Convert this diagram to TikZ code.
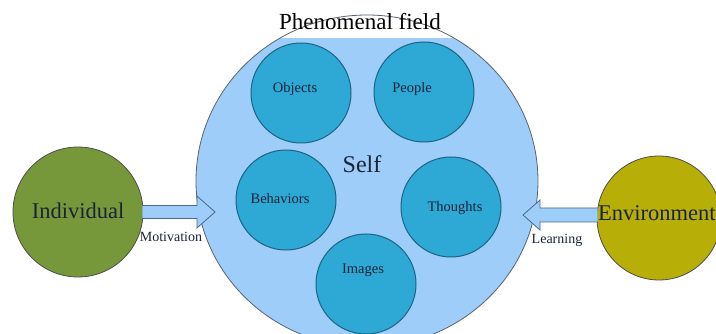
\documentclass[tikz,border=0pt]{standalone}
\usepackage{fontspec}
\setmainfont{Liberation Serif}
\usetikzlibrary{shapes.geometric,calc}
\definecolor{fieldblue}{HTML}{9DCDF8}
\definecolor{fieldline}{HTML}{5A6470}
\definecolor{subfill}{HTML}{2EA8D4}
\definecolor{subline}{HTML}{1A6584}
\definecolor{indfill}{HTML}{77983A}
\definecolor{envfill}{HTML}{B8AE08}
\definecolor{inktext}{HTML}{1A2438}
\definecolor{arrowline}{HTML}{4A6A8A}
\tikzset{
  subcircle/.style={circle, fill=subfill, draw=subline, line width=1pt, minimum size=100pt, inner sep=0pt},
  sublabel/.style={text=inktext, font=\fontsize{14.5}{16}\selectfont, inner sep=0pt},
  bigcircle/.style={circle, draw=black!70, line width=0.8pt, minimum size=130pt, inner sep=0pt},
  barrow/.style={fill=fieldblue, draw=arrowline, line width=0.8pt, line join=miter},
  smalllabel/.style={text=inktext, font=\fontsize{14}{16}\selectfont, inner sep=0pt}
}
\begin{document}
\begin{tikzpicture}[x=1pt, y=-1pt]
\useasboundingbox (0,0) rectangle (716,334);
\clip (0,0) rectangle (716,334);
\fill[white] (0,0) rectangle (716,334);
% phenomenal field
\node[ellipse, fill=fieldblue, minimum width=342pt, minimum height=332pt, inner sep=0pt] (pf) at (367,181) {};
\node[fill=white, minimum width=180pt, minimum height=36pt, inner sep=0pt] (pfbox) at (363,20) {};
\draw[fieldline, line width=0.8pt] (pf.center) ellipse [x radius=171pt, y radius=166pt];
\node[text=black, font=\fontsize{23}{26}\selectfont, inner sep=0pt] (pft) at (360,22) {Phenomenal field};
% sub circles
\node[subcircle] (obj) at (301,93) {};
\node[subcircle] (peo) at (424,92) {};
\node[subcircle] (beh) at (286,200) {};
\node[subcircle] (tho) at (451,207) {};
\node[subcircle] (img) at (366,284) {};
\node[sublabel] (objt) at (295,89) {Objects};
\node[sublabel] (peot) at (412,89) {People};
\node[sublabel] (beht) at (280,199) {Behaviors};
\node[sublabel] (thot) at (455,208) {Thoughts};
\node[sublabel] (imgt) at (363,270) {Images};
\node[text=inktext, font=\fontsize{24}{26}\selectfont, inner sep=0pt] (self) at (362,164) {Self};
% outer circles
\node[bigcircle, fill=indfill] (ind) at (78,212) {};
\node[text=inktext, font=\fontsize{22.5}{24}\selectfont, inner sep=0pt] (indt) at (78,211) {Individual};
\node[bigcircle, fill=envfill, minimum size=124pt] (env) at (659,218) {};
\node[text=inktext, font=\fontsize{22.5}{24}\selectfont, inner sep=0pt, anchor=west] (envt) at (598,213) {Environment};
% arrows
\coordinate (mtip) at (215,212);
\coordinate (ltip) at (523,215);
\draw[barrow] ($(ind.east |- mtip)+(-1,-6.5)$) -- ($(mtip)+(-18,-6.5)$) -- ($(mtip)+(-18,-16)$) -- (mtip)
  -- ($(mtip)+(-18,16)$) -- ($(mtip)+(-18,6.5)$) -- ($(ind.east |- mtip)+(-1,6.5)$);
\draw[barrow] ($(env.west |- ltip)+(1,-7)$) -- ($(ltip)+(17,-7)$) -- ($(ltip)+(17,-15)$) -- (ltip)
  -- ($(ltip)+(17,15)$) -- ($(ltip)+(17,7)$) -- ($(env.west |- ltip)+(1,7)$);
\node[smalllabel] (mot) at (171,237) {Motivation};
\node[smalllabel] (lea) at (557,240) {Learning};
\end{tikzpicture}
\end{document}
